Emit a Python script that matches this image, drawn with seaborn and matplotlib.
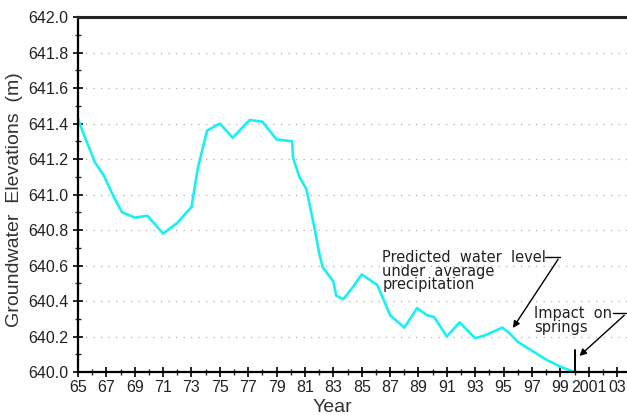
import matplotlib
matplotlib.use("Agg")
import matplotlib.pyplot as plt
import seaborn as sns
import pandas as pd
from matplotlib.ticker import MultipleLocator, FixedLocator, FormatStrFormatter

# Groundwater level readings (years since 1900)
years = [65.0, 65.35, 66.2, 66.8, 67.5, 68.1, 69.0, 69.9, 71.0, 72.0, 73.0,
         73.45, 74.1, 75.0, 75.9, 77.1, 78.0, 79.0, 80.1, 80.15, 80.6, 81.1,
         81.7, 82.0, 82.25, 83.0, 83.2, 83.7, 84.3, 85.0, 86.1, 87.0, 88.0,
         88.9, 89.6, 90.1, 91.0, 91.9, 93.0, 93.8, 94.9, 95.4, 96.0, 97.0,
         98.0, 99.0, 100.0]
elevation = [641.43, 641.35, 641.18, 641.11, 640.99, 640.90, 640.87, 640.88,
             640.78, 640.84, 640.93, 641.15, 641.36, 641.40, 641.32, 641.42,
             641.41, 641.31, 641.30, 641.21, 641.10, 641.03, 640.80, 640.67,
             640.59, 640.51, 640.43, 640.41, 640.47, 640.55, 640.49, 640.32,
             640.25, 640.36, 640.32, 640.31, 640.20, 640.28, 640.19, 640.21,
             640.25, 640.22, 640.17, 640.12, 640.07, 640.03, 640.00]

xtick_pos = list(range(65, 104, 2))
xtick_labels = [str(y) for y in range(65, 100, 2)] + ["2001", "03"]

df = pd.DataFrame({"Year": years, "Elevation": elevation})

sns.set_style("ticks")
plt.rcParams["font.family"] = ["Liberation Sans", "DejaVu Sans"]

fig = plt.figure(figsize=(6.27, 4.15), dpi=100)
ax = fig.add_axes([0.1244, 0.1036, 0.8756, 0.8554])

sns.lineplot(data=df, x="Year", y="Elevation", color="#19f0f5", linewidth=1.9, ax=ax)

ax.set_xlim(65, 103.7)
ax.set_ylim(640.0, 642.0)
ax.xaxis.set_major_locator(FixedLocator(xtick_pos))
ax.set_xticklabels(xtick_labels)
ax.xaxis.set_minor_locator(MultipleLocator(1))
ax.yaxis.set_major_locator(MultipleLocator(0.2))
ax.yaxis.set_minor_locator(MultipleLocator(0.1))
ax.yaxis.set_major_formatter(FormatStrFormatter("%.1f"))

ax.tick_params(axis="both", which="major", direction="inout", length=7, width=1.2,
               labelsize=11.5, colors="black", labelcolor="#222222")
ax.tick_params(axis="both", which="minor", direction="inout", length=5, width=1.0)
ax.tick_params(axis="x", which="major", pad=2)

for side in ["left", "bottom"]:
    ax.spines[side].set_linewidth(1.6)
    ax.spines[side].set_color("black")
ax.spines["top"].set_linewidth(2.2)
ax.spines["top"].set_color("#222222")
ax.spines["right"].set_visible(False)

ax.grid(axis="y", which="major", linestyle=(0, (1, 5)), color="#b0b0b0", linewidth=0.9)
ax.set_axisbelow(True)

ax.set_xlabel("Year", fontsize=14, color="#333333")
ax.xaxis.set_label_coords(0.464, -0.075)
ax.set_ylabel("Groundwater  Elevations  (m)", fontsize=14, color="#333333")
ax.yaxis.set_label_coords(-0.1, 0.485)

# annotations
ax.text(86.45, 640.685, "Predicted  water  level\nunder  average\nprecipitation",
        family="DejaVu Sans", fontsize=10.5, va="top", ha="left",
        linespacing=0.85, color="#222222")
ax.plot([97.95, 98.95], [640.648, 640.648], color="black", linewidth=1)
ax.annotate("", xy=(95.55, 640.235), xytext=(98.95, 640.648),
            arrowprops=dict(arrowstyle="-|>", color="black", lw=1, mutation_scale=10))

ax.text(97.15, 640.37, "Impact  on\nsprings", family="DejaVu Sans",
        fontsize=10.5, va="top", ha="left", linespacing=0.85, color="#222222")
ax.plot([102.7, 103.65], [640.33, 640.33], color="black", linewidth=1, clip_on=False)
ax.annotate("", xy=(100.2, 640.08), xytext=(103.65, 640.33),
            arrowprops=dict(arrowstyle="-|>", color="black", lw=1, mutation_scale=10),
            annotation_clip=False)
ax.plot([100.0, 100.0], [640.0, 640.125], color="black", linewidth=1.4)

fig.savefig("out.png", dpi=100)
